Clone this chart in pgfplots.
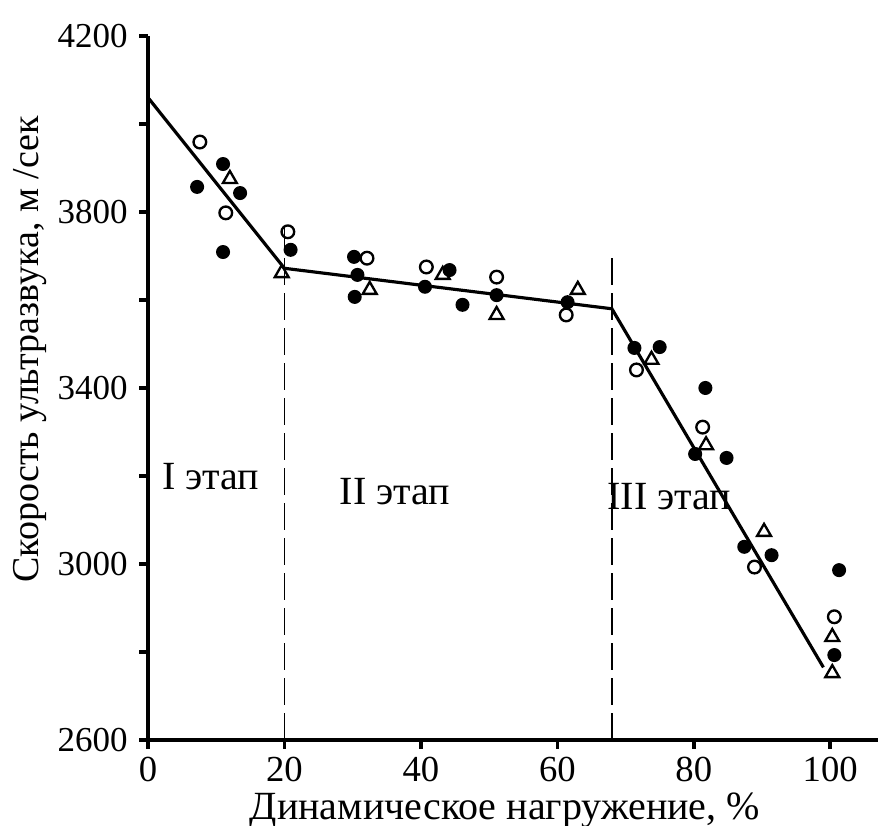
\documentclass[border=0pt]{standalone}
\usepackage{fontspec}
\setmainfont{Liberation Serif}
\usepackage{pgfplots}
\pgfplotsset{compat=1.18}

\begin{document}
\begin{tikzpicture}
\begin{axis}[
  name=ax,
  scale only axis, width=219pt, height=211.2pt,
  xmin=0, xmax=107, ymin=2600, ymax=4200,
  axis x line*=bottom, axis y line*=left,
  axis line style={line width=1.1pt, -},
  xtick={0,20,...,100}, ytick={2600,3000,...,4200},
  minor ytick={2800,3200,3600,4000},
  tick align=outside, major tick length=2.6pt, minor tick length=2.6pt,
  every tick/.style={black, line width=1.1pt},
  /pgf/number format/assume math mode=true,
  /pgf/number format/1000 sep={},
  xticklabel style={font=\fontsize{11}{12}\selectfont, yshift=1pt},
  yticklabel style={font=\fontsize{10.5}{12}\selectfont},
  xlabel={Динамическое нагружение, \%},
  ylabel={Скорость ультразвука, м /сек},
  xlabel style={font=\fontsize{12}{14}\selectfont, at={(axis description cs:0.489,-0.1)}, anchor=center},
  ylabel style={font=\fontsize{11.4}{14}\selectfont, at={(axis description cs:-0.162,0.555)}, anchor=center},
  clip=false,
]
% dashed stage boundaries
\addplot[black, line width=0.4pt, dash pattern=on 8pt off 2.5pt] coordinates {(20,2600) (20,3765)};
\addplot[black, line width=0.4pt, dash pattern=on 8pt off 2.5pt] coordinates {(68,2600) (68,3700)};
% fitted piecewise line
\addplot[black, line width=0.95pt] coordinates {(0,4060) (20,3672) (68,3580) (99,2765)};
% filled circles
\addplot[only marks, mark=*, mark size=1.9pt, black] coordinates {
 (7.2,3857) (11.0,3909) (13.5,3843) (11.0,3709) (20.9,3714)
 (30.2,3698) (30.7,3657) (30.3,3607) (44.2,3668) (40.6,3630)
 (46.1,3589) (51.1,3611) (61.5,3595) (71.3,3491) (75.0,3493)
 (81.7,3400) (80.2,3250) (84.8,3241) (87.4,3039) (91.4,3020)
 (101.3,2986) (100.6,2793)};
% open circles
\addplot[only marks, mark=o, mark size=1.9pt, black, line width=0.7pt] coordinates {
 (7.6,3959) (11.4,3798) (20.5,3755) (32.1,3695) (40.8,3675)
 (51.1,3652) (61.3,3566) (71.6,3441) (81.3,3311) (88.9,2993)
 (100.6,2880)};
% open triangles
\addplot[only marks, mark=triangle, mark size=2.4pt, black, line width=0.7pt] coordinates {
 (12.0,3875) (19.6,3661) (32.5,3623) (43.2,3657) (51.1,3566)
 (63.0,3623) (73.8,3464) (81.8,3270) (90.3,3073) (100.3,2834)
 (100.3,2752)};
\node[font=\fontsize{12}{14}\selectfont] at (axis cs:9.2,3198) {I этап};
\node[font=\fontsize{12}{14}\selectfont] at (axis cs:36.2,3164) {II этап};
\node[font=\fontsize{12}{14}\selectfont] at (axis cs:76.4,3152) {III этап};
\end{axis}
\pgfresetboundingbox
\path[use as bounding box] ([shift={(-44.4pt,-25.8pt)}]ax.south west) rectangle ([shift={(0pt,10.8pt)}]ax.north east);
\end{tikzpicture}
\end{document}
